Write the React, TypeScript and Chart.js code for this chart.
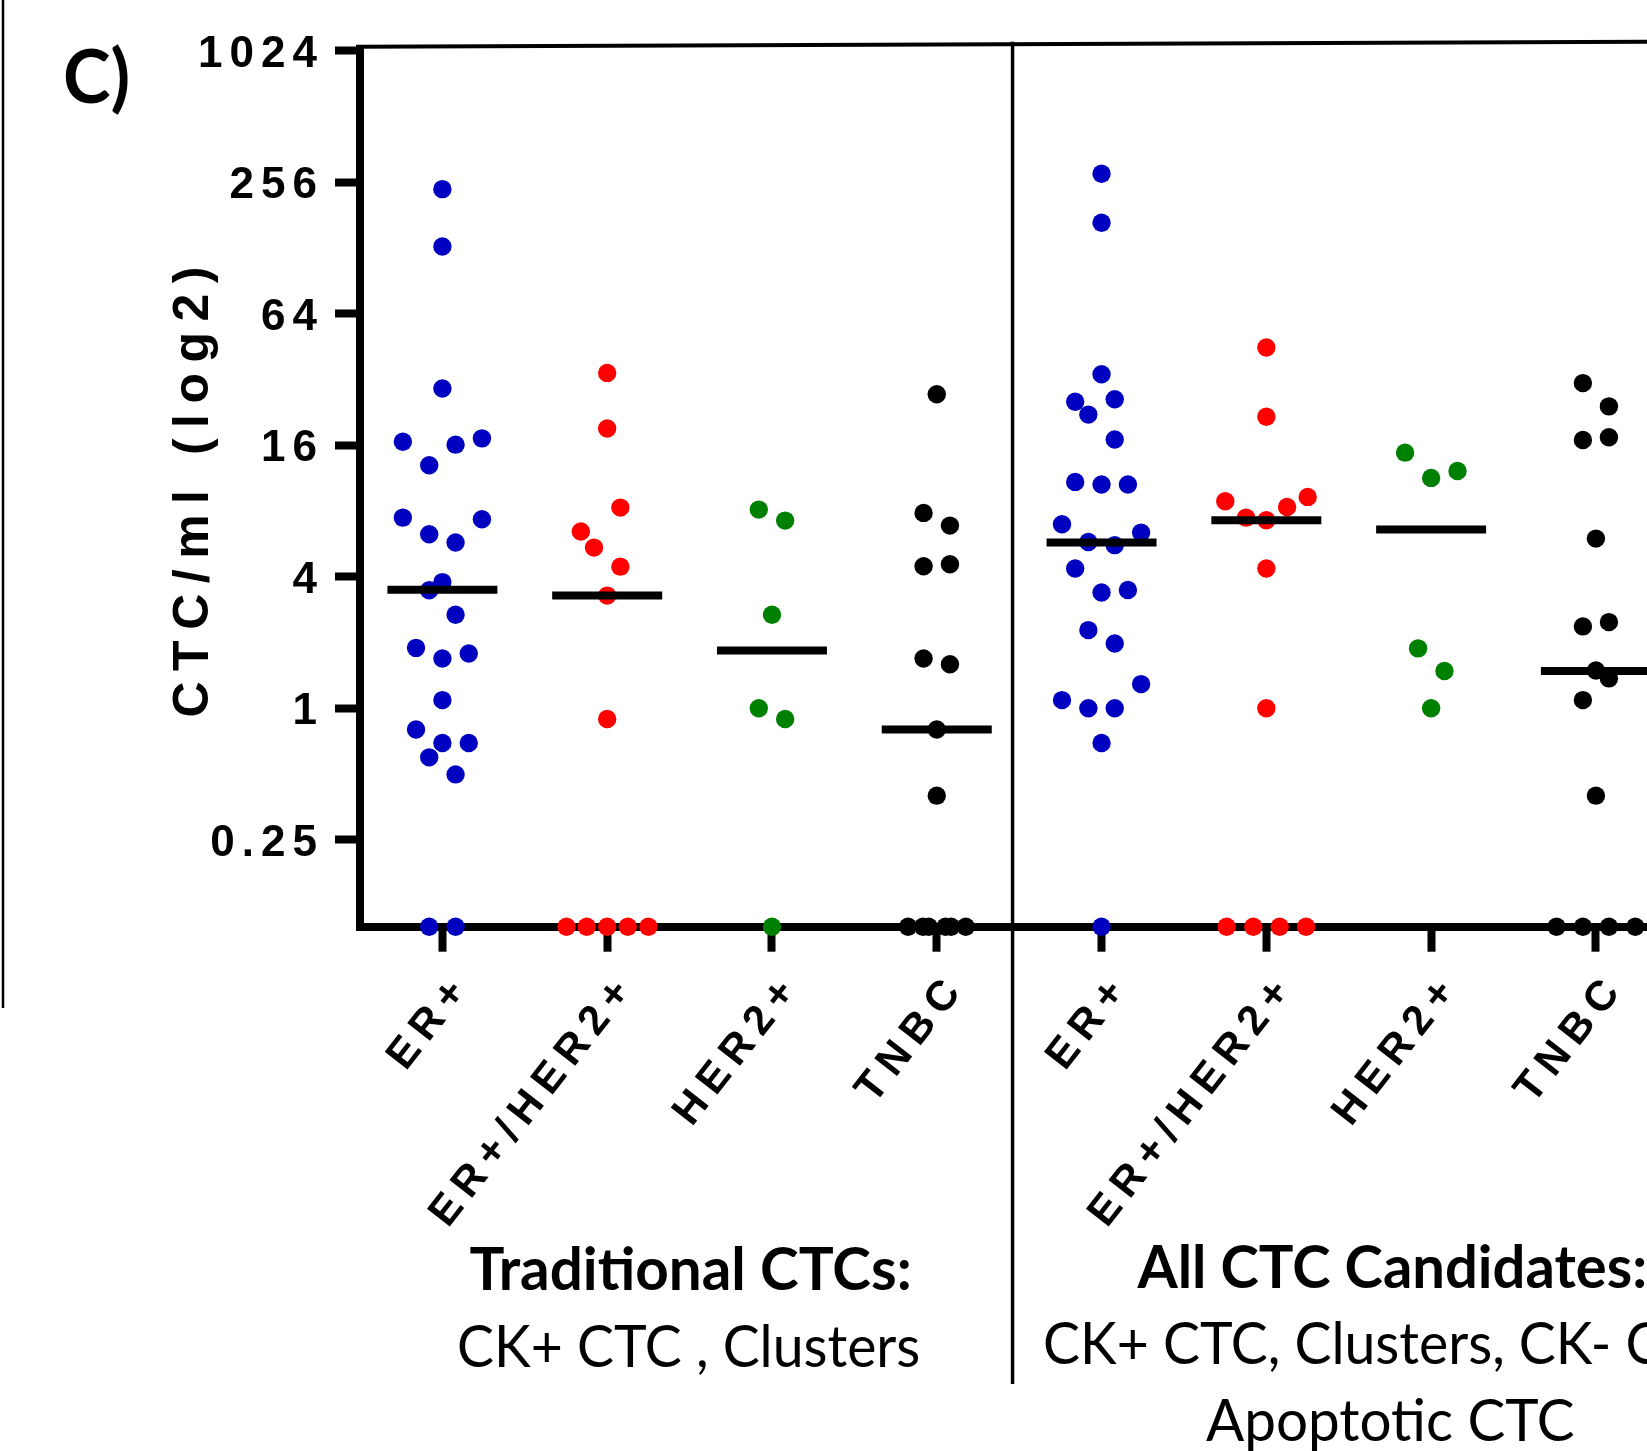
import React, { useEffect, useRef } from "react";
import { Chart, registerables } from "chart.js";

Chart.register(...registerables);

const WIDTH = 1647;
const HEIGHT = 1451;

const categories = ["ER+", "ER+/HER2+", "HER2+", "TNBC", "ER+", "ER+/HER2+", "HER2+", "TNBC"];
const categoryColors = ["#0000C0", "#FF0000", "#008000", "#000000", "#0000C0", "#FF0000", "#008000", "#000000"];
const yTickValues = [0.25, 1, 4, 16, 64, 256, 1024];
const yTickLabels = ["0.25", "1", "4", "16", "64", "256", "1024"];
const Y_MIN = 0.1;
const Y_MAX = 1024;
const X_MIN = -0.5;
const X_MAX = 7.31;
const dividerValue = 3.46;

// Traditional CTCs (CK+ CTC, Clusters) ; 0 = none detected (plotted on the axis)
const tradErValues = [238, 130, 29.1, 16.6, 12.96, 16.1, 17.2, 7.46, 7.33, 6.26, 5.74, 3.78, 3.47, 2.68, 1.89, 1.69, 1.78, 1.09, 0.8, 0.693, 0.693, 0.596, 0.498, 0, 0];
const tradErOffsets = [0, 0, 0, -0.24, -0.08, 0.08, 0.24, -0.24, 0.24, -0.08, 0.08, 0, -0.08, 0.08, -0.16, 0, 0.16, 0, -0.16, 0, 0.16, -0.08, 0.08, -0.08, 0.08];
const tradErHer2Values = [34.3, 19.1, 8.29, 6.44, 5.44, 4.45, 3.28, 0.893, 0, 0, 0, 0, 0];
const tradErHer2Offsets = [0, 0, 0.08, -0.16, -0.08, 0.08, 0, 0, -0.247, -0.124, 0, 0.125, 0.25];
const tradHer2Values = [8.12, 7.23, 2.68, 1.0, 0.893, 0];
const tradHer2Offsets = [-0.08, 0.08, 0, -0.08, 0.08, 0];
const tradTnbcValues = [27.4, 7.84, 6.86, 4.47, 4.56, 1.69, 1.59, 0.8, 0.398, 0, 0, 0, 0, 0, 0];
const tradTnbcOffsets = [0, -0.08, 0.08, -0.08, 0.08, -0.08, 0.08, 0, 0, -0.174, -0.083, -0.049, 0.053, 0.087, 0.176];

// All CTC candidates
const allErValues = [280, 167, 33.8, 25.3, 26.0, 22.1, 17.0, 10.87, 10.57, 10.57, 6.96, 6.37, 5.77, 5.58, 4.36, 3.39, 3.48, 2.28, 1.98, 1.29, 1.09, 1.0, 1.0, 0.693, 0];
const allErOffsets = [0, 0, 0, -0.16, 0.08, -0.08, 0.08, -0.16, 0, 0.16, -0.24, 0.24, -0.08, 0.08, -0.16, 0, 0.16, -0.08, 0.08, 0.24, -0.24, -0.08, 0.08, 0, 0];
const allErHer2Values = [44.8, 21.6, 8.87, 7.46, 7.26, 8.35, 9.28, 4.36, 1.0, 0, 0, 0, 0];
const allErHer2Offsets = [0, 0, -0.249, -0.123, 0, 0.126, 0.251, 0, 0, -0.241, -0.079, 0.081, 0.241];
const allHer2Values = [14.8, 11.34, 12.2, 1.88, 1.48, 1.0];
const allHer2Offsets = [-0.158, 0, 0.16, -0.079, 0.081, 0];
const allTnbcValues = [30.8, 24.1, 16.9, 17.4, 5.98, 2.37, 2.48, 1.49, 1.37, 1.09, 0.398, 0, 0, 0, 0];
const allTnbcOffsets = [-0.079, 0.079, -0.079, 0.079, 0, -0.079, 0.079, 0, 0.079, -0.079, 0, -0.239, -0.079, 0.079, 0.239];

const medians = [3.49, 3.28, 1.84, 0.8, 5.74, 7.26, 6.58, 1.48];

const seriesValues = [tradErValues, tradErHer2Values, tradHer2Values, tradTnbcValues, allErValues, allErHer2Values, allHer2Values, allTnbcValues];
const seriesOffsets = [tradErOffsets, tradErHer2Offsets, tradHer2Offsets, tradTnbcOffsets, allErOffsets, allErHer2Offsets, allHer2Offsets, allTnbcOffsets];

const yAxisTitle = "CTC/ml (log2)";
const panelLabel = "C)";
const leftCaptionTitle = "Traditional CTCs:";
const leftCaptionBody = "CK+ CTC , Clusters";
const rightCaptionTitle = "All CTC Candidates:";
const rightCaptionBody1 = "CK+ CTC, Clusters, CK- CTC,";
const rightCaptionBody2 = "Apoptotic CTC";

const LATO_CAP = 0.7165;

function drawFitText(
  ctx: CanvasRenderingContext2D,
  text: string,
  weight: string,
  capHeight: number,
  inkLeft: number,
  inkRight: number | null,
  baseline: number,
  sxGiven?: number
): number {
  const size = capHeight / LATO_CAP;
  ctx.font = `${weight} ${size}px Lato`;
  const m = ctx.measureText(text);
  const ink = m.actualBoundingBoxLeft + m.actualBoundingBoxRight;
  const sx = inkRight != null ? (inkRight - inkLeft) / ink : sxGiven ?? 1;
  ctx.save();
  ctx.translate(inkLeft, baseline);
  ctx.scale(sx, 1);
  ctx.textAlign = "left";
  ctx.textBaseline = "alphabetic";
  ctx.fillText(text, m.actualBoundingBoxLeft, 0);
  ctx.restore();
  return sx;
}

// letter spacing: y tick labels are drawn under the datasets, x tick labels (z: 1) above them
const spacingPlugin = {
  id: "tickSpacing",
  beforeDraw(chart: any) {
    chart.ctx.letterSpacing = "7px";
  },
  beforeDatasetsDraw(chart: any) {
    chart.ctx.letterSpacing = "0px";
  },
  afterDatasetsDraw(chart: any) {
    chart.ctx.letterSpacing = "8.5px";
  },
};

const annotationPlugin = {
  id: "annotations",
  afterDraw(chart: any) {
    const ctx: any = chart.ctx;
    const { top, left, right } = chart.chartArea;
    const xs = chart.scales.x;
    ctx.save();
    ctx.letterSpacing = "0px";
    ctx.strokeStyle = "#000";
    ctx.fillStyle = "#000";
    ctx.lineCap = "butt";

    // top frame line
    ctx.lineWidth = 4;
    ctx.beginPath();
    ctx.moveTo(left - 4, top - 4);
    ctx.lineTo(right, top - 9);
    ctx.stroke();

    // panel divider
    const dx = xs.getPixelForValue(dividerValue);
    ctx.lineWidth = 3.5;
    ctx.beginPath();
    ctx.moveTo(dx, top - 9);
    ctx.lineTo(dx, 1384);
    ctx.stroke();

    // left frame edge from neighbouring panel
    ctx.lineWidth = 2.5;
    ctx.beginPath();
    ctx.moveTo(3, 0);
    ctx.lineTo(3, 1008);
    ctx.stroke();

    // panel label
    drawFitText(ctx, panelLabel, "bold", 53, 65, 128, 103);

    // y-axis title
    ctx.save();
    ctx.font = "bold 50px 'Liberation Sans'";
    ctx.letterSpacing = "10.5px";
    const tw = ctx.measureText(yAxisTitle).width - 10.5;
    ctx.translate(208, 492);
    ctx.rotate(-Math.PI / 2);
    ctx.textAlign = "left";
    ctx.textBaseline = "alphabetic";
    ctx.fillText(yAxisTitle, -tw / 2, 0);
    ctx.restore();
    ctx.letterSpacing = "0px";

    // captions
    drawFitText(ctx, leftCaptionTitle, "bold", 42, 469.5, 908.6, 1290);
    const sxBody = drawFitText(ctx, leftCaptionBody, "normal", 42, 459, 919, 1367);
    drawFitText(ctx, rightCaptionTitle, "bold", 42, 1136.5, 1644, 1288);
    drawFitText(ctx, rightCaptionBody1, "normal", 42, 1045, null, 1364, sxBody);
    drawFitText(ctx, rightCaptionBody2, "normal", 42, 1206, 1573.5, 1441);

    ctx.restore();
  },
};

function zeroPadding(scale: any) {
  scale.paddingLeft = 0;
  scale.paddingRight = 0;
  scale.paddingTop = 0;
  scale.paddingBottom = 0;
}

export default function App() {
  const canvasRef = useRef<HTMLCanvasElement | null>(null);

  useEffect(() => {
    const canvas = canvasRef.current;
    if (!canvas) return;

    const pointDatasets = seriesValues.map((vals, ci) => ({
      label: categories[ci],
      data: vals.map((v, k) => ({ x: ci + seriesOffsets[ci][k], y: v > 0 ? v : Y_MIN })),
      backgroundColor: categoryColors[ci],
      borderColor: categoryColors[ci],
      pointRadius: 9.2,
      pointBorderWidth: 0,
      showLine: false,
      clip: false as any,
    }));

    const medianDataset = {
      label: "median",
      data: medians.map((m, ci) => ({ x: ci, y: m })),
      pointStyle: "line",
      pointRadius: 55,
      pointBorderWidth: 8,
      pointBorderColor: "#000",
      backgroundColor: "#000",
      borderColor: "#000",
      showLine: false,
      clip: false as any,
    };

    const chart = new Chart(canvas, {
      type: "scatter",
      data: { datasets: [medianDataset as any, ...pointDatasets] },
      options: {
        animation: false,
        responsive: false,
        devicePixelRatio: 1,
        layout: { autoPadding: false, padding: { top: 50.7, left: 0, right: 0, bottom: 0 } },
        plugins: { legend: { display: false }, tooltip: { enabled: false } },
        scales: {
          x: {
            type: "linear",
            min: X_MIN,
            max: X_MAX,
            afterBuildTicks: (scale: any) => {
              scale.ticks = categories.map((_, i) => ({ value: i }));
            },
            afterFit: (scale: any) => {
              scale.height = HEIGHT - 926.7;
              zeroPadding(scale);
            },
            ticks: {
              autoSkip: false,
              minRotation: 52,
              maxRotation: 52,
              padding: 12,
              labelOffset: 21,
              z: 1,
              color: "#000",
              font: { family: "'Liberation Sans'", size: 42, weight: "bold" },
              callback: (v: any) => categories[Math.round(Number(v))] ?? "",
            },
            grid: {
              drawOnChartArea: false,
              drawTicks: true,
              tickLength: 25,
              tickWidth: 8,
              tickColor: "#000",
              color: "#000",
            },
            border: { display: true, width: 8, color: "#000" },
          },
          y: {
            type: "logarithmic",
            min: Y_MIN,
            max: Y_MAX,
            afterBuildTicks: (scale: any) => {
              scale.ticks = yTickValues.map((v) => ({ value: v }));
            },
            afterFit: (scale: any) => {
              scale.width = 360;
              zeroPadding(scale);
            },
            ticks: {
              autoSkip: false,
              padding: 11,
              labelOffset: 4,
              color: "#000",
              font: { family: "'Liberation Sans'", size: 44, weight: "bold" },
              callback: (v: any) => {
                const idx = yTickValues.findIndex((t) => Math.abs(t - Number(v)) < 1e-9);
                return idx >= 0 ? yTickLabels[idx] : "";
              },
            },
            grid: {
              drawOnChartArea: false,
              drawTicks: true,
              tickLength: 25,
              tickWidth: 8,
              tickColor: "#000",
              color: "#000",
            },
            border: { display: true, width: 8, color: "#000" },
          },
        },
      },
      plugins: [spacingPlugin, annotationPlugin],
    });

    return () => chart.destroy();
  }, []);

  return (
    <div style={{ position: "absolute", left: 0, top: 0, width: WIDTH, height: HEIGHT, background: "#fff" }}>
      <canvas ref={canvasRef} width={WIDTH} height={HEIGHT} style={{ display: "block" }} />
    </div>
  );
}
